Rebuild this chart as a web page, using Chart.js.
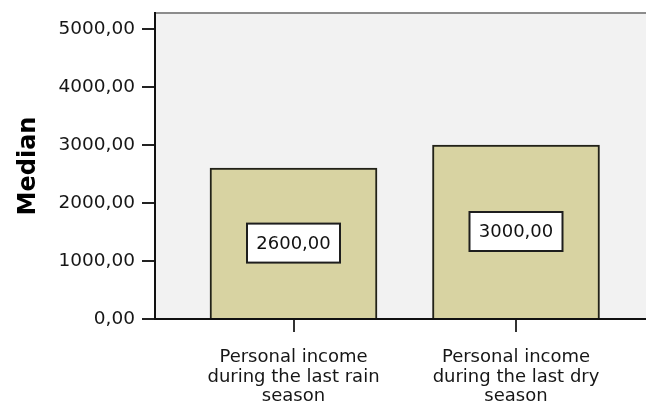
<!DOCTYPE html>
<html>
<head>
<meta charset="utf-8">
<script src="https://cdn.jsdelivr.net/npm/chart.js@4.4.1/dist/chart.umd.min.js"></script>
<style>
  body { margin: 0; background: #fff; overflow: hidden; }
</style>
</head>
<body>
<canvas id="myChart" width="646" height="407"></canvas>
<script>
// categories, one array of lines per bar
var categories = [
    ["Personal income", "during the last rain", "season"],
    ["Personal income", "during the last dry", "season"]
];
var medians = [2600, 3000];
var yTicks = [0, 1000, 2000, 3000, 4000, 5000];

function fmt(v) {
    return v.toFixed(2).replace('.', ',');
}

Chart.defaults.font.family = "'DejaVu Sans', sans-serif";
Chart.defaults.color = '#161616';

// grey plot background + the thin top line
var plotBg = {
    id: 'plotBg',
    beforeDraw: function(chart) {
        var a = chart.chartArea, c = chart.ctx;
        c.save();
        c.fillStyle = '#f2f2f2';
        c.fillRect(a.left, a.top, a.right - a.left, a.bottom - a.top);
        c.strokeStyle = '#8c8c8c';
        c.lineWidth = 2;
        c.beginPath();
        c.moveTo(a.left, a.top);
        c.lineTo(a.right, a.top);
        c.stroke();
        c.restore();
    }
};

// value boxes in the middle of each bar
var valueBoxes = {
    id: 'valueBoxes',
    afterDatasetsDraw: function(chart) {
        var c = chart.ctx;
        var meta = chart.getDatasetMeta(0);
        c.save();
        c.font = "18px 'DejaVu Sans'";
        c.textAlign = 'center';
        c.textBaseline = 'middle';
        meta.data.forEach(function(bar, i) {
            var cx = bar.x;
            var cy = (bar.y + bar.base) / 2;
            var w = 93, h = 39;
            c.fillStyle = '#ffffff';
            c.fillRect(cx - w / 2, cy - h / 2, w, h);
            c.strokeStyle = '#1e1e1e';
            c.lineWidth = 2;
            c.strokeRect(cx - w / 2, cy - h / 2, w, h);
            c.fillStyle = '#111';
            c.fillText(fmt(medians[i]), cx, cy + 1);
        });
        c.restore();
    }
};

var ctx = document.getElementById("myChart");
var myChart = new Chart(ctx, {
    type: 'bar',
    data: {
        datasets: [{
            label: 'Median',
            data: medians.map(function(v, i) { return {x: i, y: v}; }),
            backgroundColor: '#d8d3a2',
            borderColor: '#222218',
            borderWidth: 2,
            barThickness: 167
        }]
    },
    plugins: [plotBg, valueBoxes],
    options: {
        responsive: false,
        animation: false,
        layout: { padding: { left: 0, right: 0, top: 13, bottom: 0 } },
        plugins: {
            legend: { display: false },
            tooltip: { enabled: false }
        },
        scales: {
            x: {
                type: 'linear',
                offset: false,
                min: -0.6225,
                max: 1.5843,
                afterBuildTicks: function(scale) {
                    scale.ticks = categories.map(function(c, i) { return {value: i}; });
                },
                afterFit: function(scale) { scale.height = 88; },
                grid: {
                    drawOnChartArea: false,
                    drawTicks: true,
                    tickLength: 13,
                    color: '#333',
                    lineWidth: 2,
                    offset: false
                },
                border: { color: '#111', width: 2 },
                ticks: {
                    padding: 16,
                    maxRotation: 0,
                    autoSkip: false,
                    font: { size: 18, lineHeight: 1.08 },
                    callback: function(v) { return categories[v]; }
                }
            },
            y: {
                min: 0,
                max: 5276,
                afterBuildTicks: function(scale) {
                    scale.ticks = yTicks.map(function(v) { return {value: v}; });
                },
                afterFit: function(scale) {
                    scale.width = 155;
                    scale.paddingTop = 0;
                    scale.paddingBottom = 0;
                },
                grid: {
                    drawOnChartArea: false,
                    drawTicks: true,
                    tickLength: 13,
                    color: '#222',
                    lineWidth: 2
                },
                border: { color: '#111', width: 2 },
                ticks: {
                    padding: 7,
                    font: { size: 18.5 },
                    callback: function(v) { return fmt(v); }
                },
                title: {
                    display: true,
                    text: 'Median',
                    color: '#000',
                    font: { size: 24, weight: 'bold', lineHeight: 1.2 },
                    padding: { top: 14, bottom: 0 }
                }
            }
        }
    }
});
</script>
</body>
</html>
